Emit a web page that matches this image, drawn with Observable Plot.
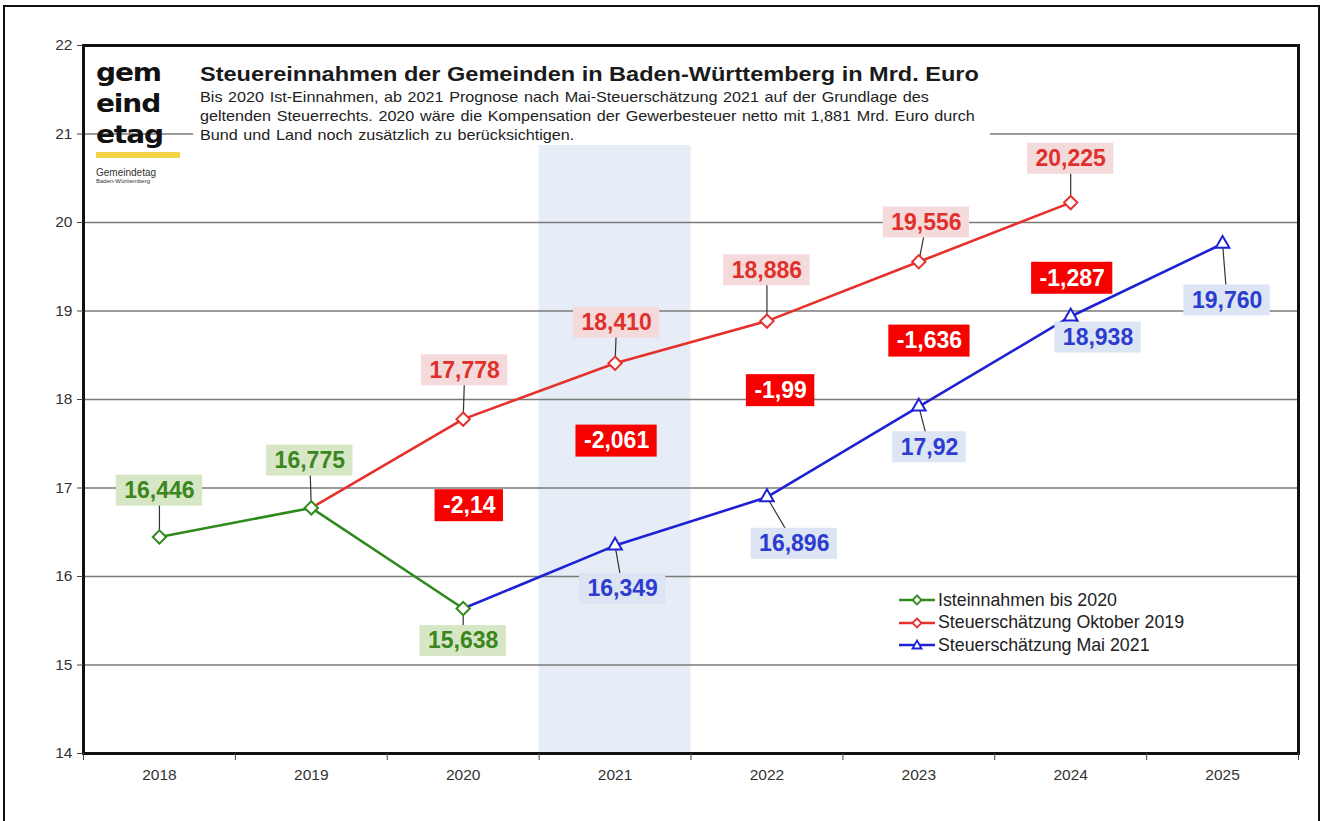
<!DOCTYPE html>
<html>
<head>
<meta charset="utf-8">
<script src="https://cdn.jsdelivr.net/npm/d3@7"></script>
<script src="https://cdn.jsdelivr.net/npm/@observablehq/plot@0.6"></script>
<style>
  html, body { margin: 0; padding: 0; background: #fff; }
  body { font-family: "Liberation Sans", Arial, sans-serif; }
  #wrap { position: relative; width: 1330px; height: 821px; overflow: hidden; }
  #chart { position: absolute; left: 0; top: 0; }
  #outer { position: absolute; left: 3px; top: 5px; width: 1317px; height: 840px; border: 2px solid #111; box-sizing: border-box; pointer-events: none; }
  #titlebox { position: absolute; left: 193px; top: 57px; width: 797px; height: 88px; background: #fff; }
  #title { position: absolute; left: 200px; top: 62px; font-size: 21px; font-weight: bold; color: #1a1a1a; white-space: nowrap; transform: scaleX(1.12); transform-origin: left top; }
  #subtitle { position: absolute; left: 200px; top: 88px; font-size: 14.5px; line-height: 19px; color: #222; white-space: nowrap; word-spacing: 1px; transform: scaleX(1.115); transform-origin: left top; }
  #logo { position: absolute; left: 96px; top: 57px; width: 90px; }
  #logo .mark { font-size: 25px; font-weight: 900; line-height: 31px; color: #111; letter-spacing: -1px; font-family: "DejaVu Sans", sans-serif; transform: scaleX(1.12); transform-origin: left top; }
  #logo .bar { margin-top: 2px; width: 84px; height: 6px; background: #f3d54a; }
  #logo .n1 { font-size: 10px; margin-top: 9px; color: #333; }
  #logo .n2 { font-size: 6px; color: #333; }
  #legend { position: absolute; left: 898px; top: 589px; font-size: 17.8px; color: #222; }
  #legend .row { height: 22.5px; display: flex; align-items: center; }
  #legend svg { margin-right: 2px; }
</style>
</head>
<body>
<div id="wrap">
  <div id="chart"></div>
  <div id="titlebox"></div>
  <div id="logo">
    <div class="mark">gem<br>eind<br>etag</div>
    <div class="bar"></div>
    <div class="n1">Gemeindetag</div>
    <div class="n2">Baden-Württemberg</div>
  </div>
  <div id="title">Steuereinnahmen der Gemeinden in Baden-Württemberg in Mrd. Euro</div>
  <div id="subtitle">Bis 2020 Ist-Einnahmen, ab 2021 Prognose nach Mai-Steuerschätzung 2021 auf der Grundlage des<br>geltenden Steuerrechts. 2020 wäre die Kompensation der Gewerbesteuer netto mit 1,881 Mrd. Euro durch<br>Bund und Land noch zusätzlich zu berücksichtigen.</div>
  <div id="legend"></div>
  <div id="outer"></div>
</div>
<script>
// ---------- data ----------
const years = [2018, 2019, 2020, 2021, 2022, 2023, 2024, 2025];
const yTicks = [14, 15, 16, 17, 18, 19, 20, 21, 22];

const istYears   = [2018, 2019, 2020];
const istValues  = [16.446, 16.775, 15.638];
const istLabels  = ["16,446", "16,775", "15,638"];

const okt19Years  = [2019, 2020, 2021, 2022, 2023, 2024];
const okt19Values = [16.775, 17.778, 18.410, 18.886, 19.556, 20.225];
const okt19Labels = [null, "17,778", "18,410", "18,886", "19,556", "20,225"];

const mai21Years  = [2020, 2021, 2022, 2023, 2024, 2025];
const mai21Values = [15.638, 16.349, 16.896, 17.92, 18.938, 19.760];
const mai21Labels = [null, "16,349", "16,896", "17,92", "18,938", "19,760"];

const diffYears  = [2020, 2021, 2022, 2023, 2024];
const diffLabels = ["-2,14", "-2,061", "-1,99", "-1,636", "-1,287"];

const seriesNames = ["Isteinnahmen bis 2020", "Steuerschätzung Oktober 2019", "Steuerschätzung Mai 2021"];
const shadedYear = 2021;

// ---------- label placement (data units) ----------
const istLabelY   = [16.97, 17.31, 15.27];
const istLabelDx  = [0, -0.01, 0];
const okt19LabelY = [null, 18.33, 18.87, 19.46, 20.0, 20.72];
const okt19LabelDx= [null, 0.01, 0.01, 0, 0.05, 0];
const mai21LabelY = [null, 15.86, 16.37, 17.46, 18.70, 19.12];
const mai21LabelDx= [null, 0.05, 0.18, 0.07, 0.18, 0.03];
const diffLabelY  = [16.80, 17.53, 18.10, 18.66, 19.37];
const diffLabelDx = [0.04, 0.01, 0.09, 0.07, 0.01];
const shadeTop = 20.87;

// ---------- styles ----------
const green = "#2e8a1c", red = "#e6302c", blue = "#1f22d4";
const W = 1330, H = 821, mL = 83, mR = 32, mT = 45, mB = 68;
const pxX = (W - mL - mR) / 8, pxY = (H - mT - mB) / 8;
const FS = 23;

function textW(s, fs) {
  let w = 0;
  for (const c of s) w += (c === "," ? 0.278 : c === "-" ? 0.333 : 0.556) * fs;
  return w;
}
function labelRows(yrs, vals, labs, ly, ldx, color, bg) {
  const rows = [];
  yrs.forEach((y, i) => {
    if (!labs[i]) return;
    const cx = y + ldx[i], cy = ly[i];
    const hw = (textW(labs[i], FS) + 16) / 2 / pxX;
    const hh = 15.5 / pxY;
    rows.push({year: y, value: vals[i], label: labs[i], cx, cy,
      x1: cx - hw, x2: cx + hw, y1: cy - hh, y2: cy + hh, color, bg});
  });
  return rows;
}
const rowsOf = (yrs, vals) => yrs.map((y, i) => ({year: y, value: vals[i]}));

const ist = rowsOf(istYears, istValues);
const okt = rowsOf(okt19Years, okt19Values);
const mai = rowsOf(mai21Years, mai21Values);

const labels = [
  ...labelRows(istYears, istValues, istLabels, istLabelY, istLabelDx, "#3b861e", "#d7e7c6"),
  ...labelRows(okt19Years, okt19Values, okt19Labels, okt19LabelY, okt19LabelDx, "#e0302c", "#f4dada"),
  ...labelRows(mai21Years, mai21Values, mai21Labels, mai21LabelY, mai21LabelDx, "#2b3ccf", "#dde4f4")
];
const diffs = diffYears.map((y, i) => {
  const cx = y + diffLabelDx[i], cy = diffLabelY[i];
  const hw = (textW(diffLabels[i], FS) + 16) / 2 / pxX, hh = 16 / pxY;
  return {label: diffLabels[i], cx, cy, x1: cx - hw, x2: cx + hw, y1: cy - hh, y2: cy + hh};
});
const boundaries = [...years.map(y => y - 0.5), years[years.length - 1] + 0.5];

const chart = Plot.plot({
  width: W, height: H,
  marginLeft: mL, marginRight: mR, marginTop: mT, marginBottom: mB,
  x: {domain: [years[0] - 0.5, years[years.length - 1] + 0.5], label: null},
  y: {domain: [yTicks[0], yTicks[yTicks.length - 1]], label: null},
  style: {fontFamily: "'Liberation Sans', Arial, sans-serif", fontSize: "15.5px", color: "#333", background: "transparent", overflow: "visible"},
  marks: [
    Plot.rect([{x1: shadedYear - 0.5, x2: shadedYear + 0.5, y1: yTicks[0], y2: shadeTop}], {x1: "x1", x2: "x2", y1: "y1", y2: "y2", fill: "#e6edf7"}),
    Plot.ruleY(yTicks.slice(1, -1), {stroke: "#7a7a7a", strokeWidth: 1.5}),
    Plot.line(okt, {x: "year", y: "value", stroke: red, strokeWidth: 2.6}),
    Plot.line(mai, {x: "year", y: "value", stroke: blue, strokeWidth: 2.6}),
    Plot.line(ist, {x: "year", y: "value", stroke: green, strokeWidth: 2.6}),
    Plot.link(labels, {x1: "year", y1: "value", x2: "cx", y2: "cy", stroke: "#333", strokeWidth: 1.2}),
    Plot.rect(labels, {x1: "x1", x2: "x2", y1: "y1", y2: "y2", fill: "bg"}),
    Plot.text(labels, {x: "cx", y: "cy", text: "label", fill: "color", fontSize: FS, fontWeight: "bold"}),
    Plot.dot(okt.slice(1), {x: "year", y: "value", symbol: "diamond2", r: 6, fill: "white", stroke: red, strokeWidth: 2}),
    Plot.dot(mai.slice(1), {x: "year", y: "value", symbol: "triangle2", r: 6.5, fill: "white", stroke: blue, strokeWidth: 2}),
    Plot.dot(ist, {x: "year", y: "value", symbol: "diamond2", r: 6, fill: "white", stroke: green, strokeWidth: 2}),
    Plot.rect(diffs, {x1: "x1", x2: "x2", y1: "y1", y2: "y2", fill: "#f70000"}),
    Plot.text(diffs, {x: "cx", y: "cy", text: "label", fill: "white", fontSize: FS, fontWeight: "bold"}),
    Plot.frame({stroke: "#111", strokeWidth: 3}),
    Plot.axisX({ticks: years, tickSize: 0, tickPadding: 15, tickFormat: d => String(d)}),
    Plot.axisX({ticks: boundaries, tickSize: 7, tickFormat: () => "", stroke: "#444"}),
    Plot.axisY({ticks: yTicks, tickSize: 6, tickPadding: 5, tickFormat: d => String(d), stroke: "#444"})
  ]
});
document.getElementById("chart").appendChild(chart);

// legend
const legendColors = [green, red, blue];
const legendSymbols = ["diamond", "diamond", "triangle"];
const legend = document.getElementById("legend");
seriesNames.forEach((name, i) => {
  const row = document.createElement("div");
  row.className = "row";
  const c = legendColors[i];
  const sym = legendSymbols[i] === "diamond"
    ? `<path d="M19 2.5 L23.5 7 L19 11.5 L14.5 7 Z" fill="white" stroke="${c}" stroke-width="1.8"/>`
    : `<path d="M19 2.5 L23.5 10.5 L14.5 10.5 Z" fill="white" stroke="${c}" stroke-width="1.8"/>`;
  row.innerHTML = `<svg width="38" height="14"><line x1="1" x2="37" y1="7" y2="7" stroke="${c}" stroke-width="2.6"/>${sym}</svg><span>${name}</span>`;
  legend.appendChild(row);
});
</script>
</body>
</html>
